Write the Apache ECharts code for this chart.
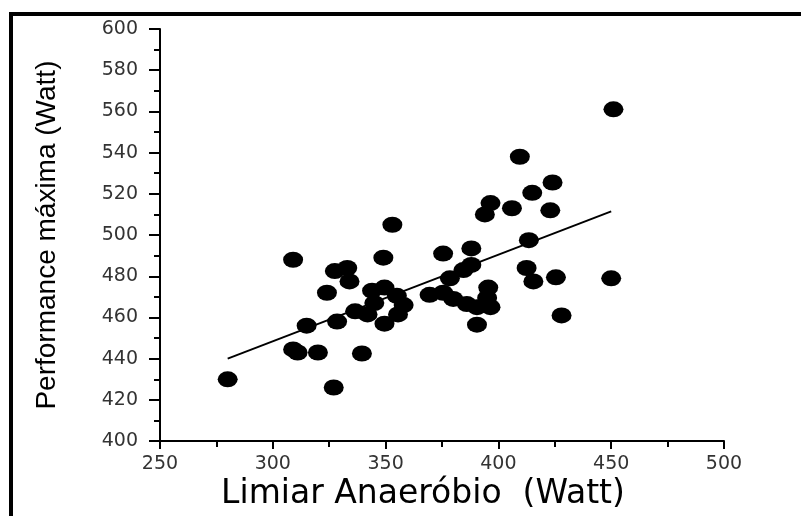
<!DOCTYPE html>
<html>
<head>
<meta charset="utf-8">
<script src="https://cdn.jsdelivr.net/npm/echarts@6/dist/echarts.min.js"></script>
<style>html,body{margin:0;padding:0;background:#fff}#c{width:801px;height:516px}</style>
</head>
<body>
<div id="c"></div>
<script>
// Limiar Anaeróbio (Watt) values
var limiar = [280, 309, 309, 311, 315, 320, 324, 327.5, 333, 334, 327, 328.5, 336.5, 339.5, 342, 344, 345, 349.5, 349.5, 349,
  353, 355, 355.5, 358, 369.5, 375.5, 375.5, 378.5, 380, 384.5, 386, 388, 388, 390.5, 390.5, 395.5, 395, 396.5,
  394, 396.5, 406, 409.5, 413.5, 412.5, 415.5, 415, 423, 424, 425.5, 428, 450, 451];
// Performance máxima (Watt) values
var performance = [430, 488, 444.5, 443, 456, 443, 472, 482.5, 484, 477.5, 426, 458, 463, 442.5, 461.5, 473, 467, 474.5, 457, 489,
  505, 470.5, 461.5, 466, 471, 472, 491, 479, 469, 483, 466.5, 485.5, 493.5, 465, 456.5, 474.5, 469.5, 465,
  510, 515.5, 513, 538, 497.5, 484, 477.5, 520.5, 512, 525.5, 479.5, 461, 479, 561];
// regression line end points
var fitX = [280, 450];
var fitY = [440, 511.5];

var points = limiar.map(function (x, i) { return [x, performance[i]]; });
var fit = fitX.map(function (x, i) { return [x, fitY[i]]; });

var chart = echarts.init(document.getElementById('c'), null, {renderer: 'canvas'});
chart.setOption({
  animation: false,
  backgroundColor: '#fff',
  grid: {left: 160, right: 77, top: 29, bottom: 71, containLabel: false},
  xAxis: {
    type: 'value', min: 250, max: 500, interval: 50,
    name: 'Limiar Anaeróbio  (Watt)', nameLocation: 'middle', nameGap: 36,
    nameTextStyle: {fontFamily: 'DejaVu Sans', fontSize: 33, color: '#000', padding: [0, 38, 0, 0]},
    axisLine: {show: true, onZero: false, lineStyle: {color: '#000', width: 2}},
    axisTick: {show: true, length: 8, lineStyle: {color: '#000', width: 2}},
    minorTick: {show: true, splitNumber: 2, length: 6, lineStyle: {color: '#000', width: 2}},
    axisLabel: {fontFamily: 'DejaVu Sans', fontSize: 19, color: '#333', margin: 13},
    splitLine: {show: false}
  },
  yAxis: {
    type: 'value', min: 400, max: 600, interval: 20,
    name: 'Performance máxima (Watt)', nameLocation: 'middle', nameGap: 99, nameRotate: 90,
    nameTextStyle: {fontFamily: 'Liberation Sans', fontSize: 28, color: '#000'},
    axisLine: {show: true, onZero: false, lineStyle: {color: '#000', width: 2}},
    axisTick: {show: true, length: 11, lineStyle: {color: '#000', width: 2}},
    minorTick: {show: true, splitNumber: 2, length: 6, lineStyle: {color: '#000', width: 2}},
    axisLabel: {fontFamily: 'DejaVu Sans', fontSize: 19, color: '#333', margin: 22},
    splitLine: {show: false}
  },
  graphic: [
    {type: 'rect', left: 9, top: 12, shape: {width: 4, height: 504}, style: {fill: '#000'}},
    {type: 'rect', left: 9, top: 12, shape: {width: 792, height: 4}, style: {fill: '#000'}}
  ],
  series: [
    {
      type: 'line', data: fit, symbol: 'none', z: 2,
      lineStyle: {color: '#000', width: 2}
    },
    {
      type: 'scatter', data: points, symbol: 'circle', symbolSize: [20, 16], z: 3,
      itemStyle: {color: '#000', opacity: 1}
    }
  ]
});
</script>
</body>
</html>
